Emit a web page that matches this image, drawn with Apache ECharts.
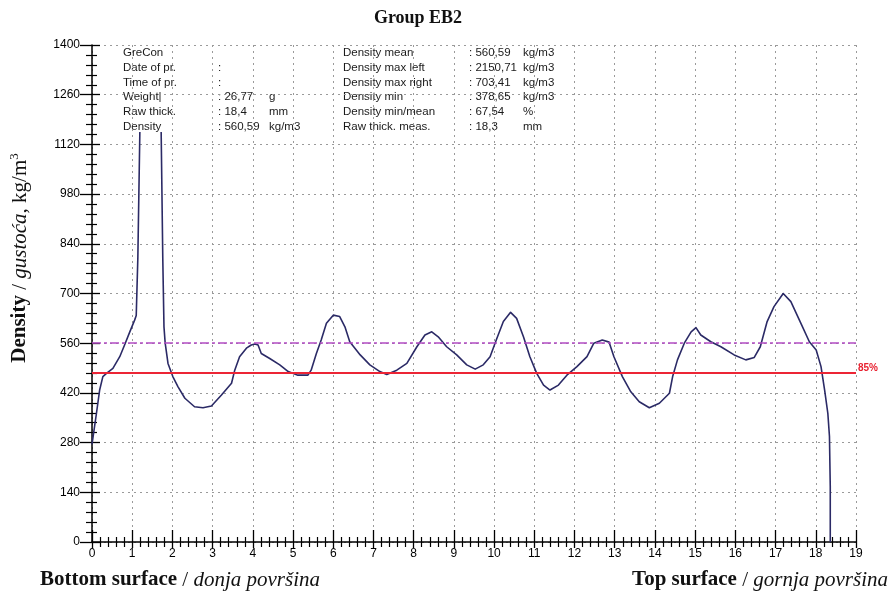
<!DOCTYPE html>
<html>
<head>
<meta charset="utf-8">
<script src="https://cdn.jsdelivr.net/npm/echarts@6/dist/echarts.min.js"></script>
<style>
html,body{margin:0;padding:0;background:#fff;}
#chart{width:892px;height:594px;}
</style>
</head>
<body>
<div id="chart"></div>
<script>
// ---- data ----
const chartTitle = 'Group EB2';
const profileX = [0, 0.11, 0.19, 0.27, 0.36, 0.52, 0.69, 0.81, 0.94, 1.06, 1.10, 1.14, 1.19,
  1.45,
  1.72, 1.76, 1.79, 1.82, 1.89, 2.01, 2.14, 2.31, 2.55, 2.76, 2.97, 3.22, 3.47, 3.55, 3.67, 3.84, 3.96,
  4.05, 4.13, 4.21, 4.42, 4.67, 4.88, 5.12, 5.37, 5.45, 5.58, 5.70, 5.83, 6.00, 6.16, 6.29, 6.41,
  6.67, 6.91, 7.16, 7.33, 7.58, 7.83, 8.08, 8.28, 8.45, 8.61, 8.82, 9.07, 9.32, 9.53, 9.73, 9.90,
  10.07, 10.23, 10.41, 10.56, 10.73, 10.89, 11.06, 11.23, 11.39, 11.60, 11.81, 12.06, 12.31, 12.48,
  12.69, 12.86, 12.98, 13.19, 13.40, 13.61, 13.86, 14.11, 14.36, 14.44, 14.56, 14.73, 14.90, 15.02,
  15.14, 15.39, 15.64, 15.97, 16.26, 16.47, 16.62, 16.79, 16.96, 17.19, 17.38, 17.63, 17.84, 18.01,
  18.13, 18.22, 18.30, 18.34, 18.36, 18.36];
const profileY = [275, 362, 428, 466, 475, 489, 522, 555, 592, 625, 638, 800, 1155,
  null,
  1155, 800, 606, 560, 503, 466, 437, 405, 381, 378, 383, 414, 447, 484, 522, 546, 555,
  558, 555, 531, 517, 499, 480, 470, 470, 484, 531, 569, 616, 639, 635, 606, 564,
  527, 499, 480, 472, 484, 503, 550, 583, 592, 578, 550, 527, 499, 487, 499, 522,
  574, 621, 647, 630, 578, 522, 475, 442, 428, 442, 470, 494, 522, 560,
  569, 563, 522, 466, 423, 395, 378, 391, 419, 466, 513, 560, 592, 604,
  583, 564, 550, 527, 513, 520, 550, 621, 663, 700, 677, 616, 564, 541,
  494, 428, 362, 297, 156, 0];
const densityMean = 560.59;
const minRatioLevel = 0.85;
const minRatioLabel = '85%';
const xMin = 0, xMax = 19, xStep = 1;
const yMin = 0, yMax = 1400, yStep = 140;

const infoLeftLabels = ['GreCon', 'Date of pr.', 'Time of pr.', 'Weight|', 'Raw thick.', 'Density'];
const infoLeftValues = ['', ':', ':', ': 26,77', ': 18,4', ': 560,59'];
const infoLeftUnits  = ['', '', '', 'g', 'mm', 'kg/m3'];
const infoRightLabels = ['Density mean', 'Density max left', 'Density max right', 'Density min', 'Density min/mean', 'Raw thick. meas.'];
const infoRightValues = [': 560,59', ': 2150,71', ': 703,41', ': 378,65', ': 67,54', ': 18,3'];
const infoRightUnits  = ['kg/m3', 'kg/m3', 'kg/m3', 'kg/m3', '%', 'mm'];

const yAxisTitle = ['Density', ' / ', 'gustoća', ', kg/m', '3'];
const bottomLeftTitle = ['Bottom surface', ' / ', 'donja površina'];
const bottomRightTitle = ['Top surface', ' / ', 'gornja površina'];

// ---- build ----
const seriesData = profileX.map((x, i) => [x, profileY[i] === null ? '-' : profileY[i]]);

const sans = '"Liberation Sans", Arial, sans-serif';
const serif = '"Liberation Serif", "Times New Roman", serif';

const graphics = [];
const rowY0 = 53, rowDY = 14.7;
function addText(x, y, t, align) {
  if (!t) return;
  graphics.push({type: 'text', x: x, y: y, silent: true,
    style: {text: t, font: '11.5px ' + sans, fill: '#1a1a1a', align: align || 'left', verticalAlign: 'middle'}});
}
infoLeftLabels.forEach((t, i) => {
  addText(123, rowY0 + i * rowDY, t);
  addText(218, rowY0 + i * rowDY, infoLeftValues[i]);
  addText(269, rowY0 + i * rowDY, infoLeftUnits[i]);
});
infoRightLabels.forEach((t, i) => {
  addText(343, rowY0 + i * rowDY, t);
  addText(469, rowY0 + i * rowDY, infoRightValues[i]);
  addText(523, rowY0 + i * rowDY, infoRightUnits[i]);
});

graphics.push({type: 'text', x: 418, y: 18, silent: true,
  style: {text: chartTitle, font: 'bold 18px ' + serif, fill: '#111', align: 'center', verticalAlign: 'middle'}});

graphics.push({type: 'text', x: 20, y: 258, rotation: Math.PI / 2, silent: true,
  style: {
    text: '{b|' + yAxisTitle[0] + '}{n|' + yAxisTitle[1] + '}{i|' + yAxisTitle[2] + '}{n|' + yAxisTitle[3] + '}{s|' + yAxisTitle[4] + '}',
    align: 'center', verticalAlign: 'middle',
    rich: {
      b: {font: 'bold 21px ' + serif, fill: '#111'},
      n: {font: '21px ' + serif, fill: '#111'},
      i: {font: 'italic 21px ' + serif, fill: '#111'},
      s: {font: '13px ' + serif, fill: '#111', padding: [0, 0, 10, 0]}
    }
  }});

function surfaceText(x, align, parts) {
  graphics.push({type: 'text', x: x, y: 580, silent: true,
    style: {
      text: '{b|' + parts[0] + '}{n|' + parts[1] + '}{i|' + parts[2] + '}',
      align: align, verticalAlign: 'middle',
      rich: {
        b: {font: 'bold 21px ' + serif, fill: '#111'},
        n: {font: '21px ' + serif, fill: '#111'},
        i: {font: 'italic 21px ' + serif, fill: '#111'}
      }
    }});
}
surfaceText(40, 'left', bottomLeftTitle);
surfaceText(888, 'right', bottomRightTitle);

const gridLine = {show: true, lineStyle: {color: '#9a9a9a', type: [2, 4], width: 1}};
const axisLineStyle = {show: true, lineStyle: {color: '#000', width: 1.5}};
const plainNum = v => String(v);

function xAxisDef(main) {
  return {
    type: 'value', min: xMin, max: xMax, interval: xStep, position: 'bottom',
    axisLine: main ? axisLineStyle : {show: false},
    axisTick: {show: true, inside: !main, length: main ? 6 : 12, lineStyle: {color: '#000', width: 1.3}},
    minorTick: {show: true, splitNumber: 5, length: 5, lineStyle: {color: '#000', width: 1.2}},
    axisLabel: {show: main, margin: 6, fontFamily: sans, fontSize: 12, color: '#000', formatter: plainNum},
    splitLine: main ? gridLine : {show: false},
    minorSplitLine: {show: false}
  };
}
function yAxisDef(main) {
  return {
    type: 'value', min: yMin, max: yMax, interval: yStep, position: 'left',
    axisLine: main ? axisLineStyle : {show: false},
    axisTick: {show: true, inside: !main, length: main ? 12 : 8, lineStyle: {color: '#000', width: 1.3}},
    minorTick: {show: true, splitNumber: 5, length: main ? 6 : 5, lineStyle: {color: '#000', width: 1.2}},
    axisLabel: {show: main, margin: 12, fontFamily: sans, fontSize: 12, color: '#000', formatter: plainNum},
    splitLine: main ? gridLine : {show: false},
    minorSplitLine: {show: false}
  };
}

const option = {
  animation: false,
  backgroundColor: '#fff',
  grid: {left: 92, right: 36, top: 45, bottom: 52, outerBoundsMode: 'none', show: false},
  xAxis: [xAxisDef(true), xAxisDef(false)],
  yAxis: [yAxisDef(true), yAxisDef(false)],
  graphic: graphics,
  series: [{
    type: 'line',
    xAxisIndex: 0, yAxisIndex: 0,
    data: seriesData,
    showSymbol: false,
    smooth: false,
    connectNulls: false,
    lineStyle: {color: '#2b2a66', width: 1.6, join: 'round'},
    markLine: {
      silent: true,
      symbol: 'none',
      data: [
        {yAxis: densityMean, lineStyle: {color: '#b24cc4', width: 1.5, type: [9, 3, 3, 3]}, label: {show: false}},
        {yAxis: +(densityMean * minRatioLevel).toFixed(2), lineStyle: {color: '#ec2535', width: 2, type: 'solid'},
          label: {show: true, position: 'end', formatter: minRatioLabel, color: '#e8202f', fontFamily: sans, fontWeight: 'bold', fontSize: 10, distance: 2, verticalAlign: 'bottom'}}
      ]
    }
  }]
};

const chart = echarts.init(document.getElementById('chart'), null, {renderer: 'canvas'});
chart.setOption(option);
</script>
</body>
</html>
